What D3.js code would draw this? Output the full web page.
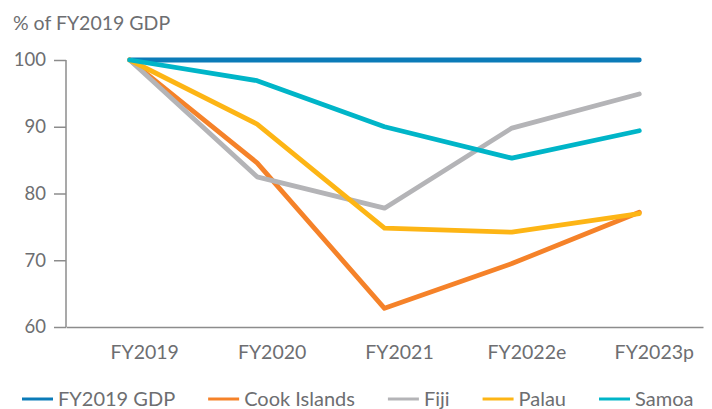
<!DOCTYPE html>
<html>
<head>
<meta charset="utf-8">
<script src="https://cdn.jsdelivr.net/npm/d3@7"></script>
<style>
  body { margin: 0; background: #fff; }
  text { font-family: Lato, "Noto Sans", sans-serif; fill: #6d6e71; }
</style>
</head>
<body>
<script>
// categories and series
var years = ["FY2019", "FY2020", "FY2021", "FY2022e", "FY2023p"];
var gdpBase = [100, 100, 100, 100, 100];
var cookIslands = [100, 84.6, 62.8, 69.5, 77.2];
var fiji = [100, 82.5, 77.8, 89.8, 94.9];
var palau = [100, 90.4, 74.8, 74.2, 77.0];
var samoa = [100, 96.9, 90.0, 85.3, 89.4];
var yTicks = [60, 70, 80, 90, 100];

var seriesNames = ["FY2019 GDP", "Cook Islands", "Fiji", "Palau", "Samoa"];
var seriesColors = ["#0b7bb8", "#f58229", "#b4b4b7", "#fdb515", "#00b5c8"];
var seriesValues = [gdpBase, cookIslands, fiji, palau, samoa];

const canvWidth = 712, canvHeight = 409;
const margin = {top: 60, right: 9, bottom: 82, left: 66};
const width = canvWidth - margin.left - margin.right;
const height = canvHeight - margin.top - margin.bottom;

const svg = d3.select("body").append("svg")
    .attr("width", canvWidth)
    .attr("height", canvHeight);

const g = svg.append("g")
    .attr("transform", "translate(" + margin.left + "," + margin.top + ")");

var xScale = d3.scaleBand()
    .domain(years)
    .range([0, width])
    .padding(0);

var yScale = d3.scaleLinear()
    .domain([60, 100])
    .range([height, 0]);

// y title
svg.append("text")
    .attr("x", 13)
    .attr("y", 30)
    .attr("font-size", "19.5px")
    .text("% of FY2019 GDP");

// y axis
var yAxis = g.append("g")
    .call(d3.axisLeft(yScale).tickValues(yTicks).tickSize(12).tickPadding(8));
yAxis.select(".domain").remove();
yAxis.append("line")
    .attr("x1", 0).attr("x2", 0)
    .attr("y1", yScale(100)).attr("y2", height)
    .attr("stroke", "#8c8c8c").attr("stroke-width", 1.5);
yAxis.selectAll(".tick line").attr("stroke", "#8c8c8c").attr("stroke-width", 1.5);
yAxis.selectAll(".tick text")
    .attr("font-size", "18.5px")
    .attr("fill", "#6d6e71");

// x axis
var xAxis = g.append("g")
    .attr("transform", "translate(0," + height + ")")
    .call(d3.axisBottom(xScale).tickSize(0).tickPadding(18));
xAxis.select(".domain")
    .attr("stroke", "#8c8c8c").attr("stroke-width", 1.5);
xAxis.selectAll(".tick text")
    .attr("font-size", "19.5px")
    .attr("fill", "#6d6e71")
    .attr("dx", 15);

var lineFunction = d3.line()
    .x(function (d, i) { return xScale(years[i]) + xScale.bandwidth() / 2; })
    .y(function (d) { return yScale(d); });

// lines
g.selectAll("path.series")
    .data(seriesValues)
    .enter()
    .append("path")
    .attr("class", "series")
    .attr("d", d => lineFunction(d))
    .attr("fill", "none")
    .attr("stroke", (d, i) => seriesColors[i])
    .attr("stroke-width", 4.8)
    .attr("stroke-linejoin", "round")
    .attr("stroke-linecap", "round");

// legend
var legend = svg.append("g").attr("transform", "translate(22,399)");
var lx = 0;
seriesNames.forEach(function (name, i) {
    var item = legend.append("g").attr("transform", "translate(" + lx + ",0)");
    item.append("line")
        .attr("x1", 0).attr("x2", 31)
        .attr("y1", 0).attr("y2", 0)
        .attr("stroke", seriesColors[i])
        .attr("stroke-width", 3);
    var t = item.append("text")
        .attr("x", 36)
        .attr("y", 6.5)
        .attr("font-size", "20px")
        .text(name);
    lx += 36 + t.node().getComputedTextLength() + 33;
});
</script>
</body>
</html>
